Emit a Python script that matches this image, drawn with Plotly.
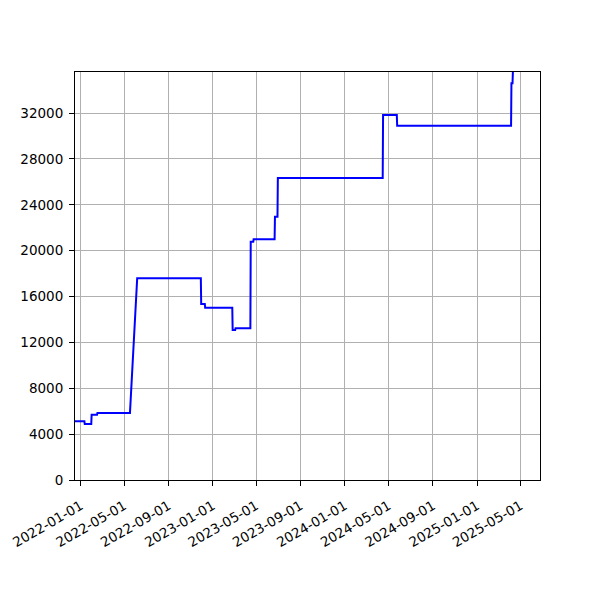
import plotly.graph_objects as go

# breakpoints of the balance series (date, value)
dates = [
    "2021-12-16", "2022-01-11", "2022-01-12", "2022-01-30", "2022-01-31",
    "2022-02-15", "2022-02-16", "2022-05-17", "2022-06-06", "2022-11-29",
    "2022-11-30", "2022-12-10", "2022-12-11", "2023-02-24", "2023-02-25",
    "2023-03-04", "2023-03-05", "2023-04-15", "2023-04-16", "2023-04-23",
    "2023-04-24", "2023-06-21", "2023-06-22", "2023-06-29", "2023-06-30",
    "2024-04-15", "2024-04-16", "2024-05-24", "2024-05-25", "2025-04-05",
    "2025-04-06", "2025-04-09", "2025-04-10",
]
values = [
    5120, 5120, 4880, 4880, 5700,
    5700, 5850, 5850, 17600, 17600,
    15350, 15350, 15020, 15020, 13080,
    13080, 13230, 13230, 20780, 20780,
    20990, 20990, 22960, 22960, 26340,
    26340, 31820, 31820, 30900, 30900,
    34590, 34590, 35580,
]

y_ticks = [0, 4000, 8000, 12000, 16000, 20000, 24000, 28000, 32000]

fig = go.Figure()
fig.add_trace(go.Scatter(
    x=dates,
    y=values,
    mode="lines",
    line=dict(color="#0000ff", width=2),
    showlegend=False,
))

axis_style = dict(
    showline=True,
    linecolor="black",
    linewidth=1,
    mirror=True,
    ticks="outside",
    ticklen=5,
    tickcolor="black",
    showgrid=True,
    gridcolor="#b0b0b0",
    gridwidth=1,
    zeroline=False,
    automargin=False,
    ticklabeloverflow="allow",
    tickfont=dict(family="DejaVu Sans", size=13.5, color="black"),
)

fig.update_xaxes(
    type="date",
    range=["2021-12-16", "2025-06-24"],
    tick0="2022-01-01",
    dtick="M4",
    tickformat="%Y-%m-%d",
    tickangle=-30,
    ticklabelstandoff=7,
    **axis_style,
)
fig.update_yaxes(
    range=[0, 35580],
    tickvals=y_ticks,
    ticktext=[str(v) for v in y_ticks],
    ticklabelstandoff=3,
    **axis_style,
)

# page body adds an 8px offset, so margins are trimmed to compensate
fig.update_layout(
    width=600,
    height=600,
    margin=dict(l=67, r=68, t=64, b=128),
    paper_bgcolor="white",
    plot_bgcolor="white",
)

fig.write_html("out.html")
